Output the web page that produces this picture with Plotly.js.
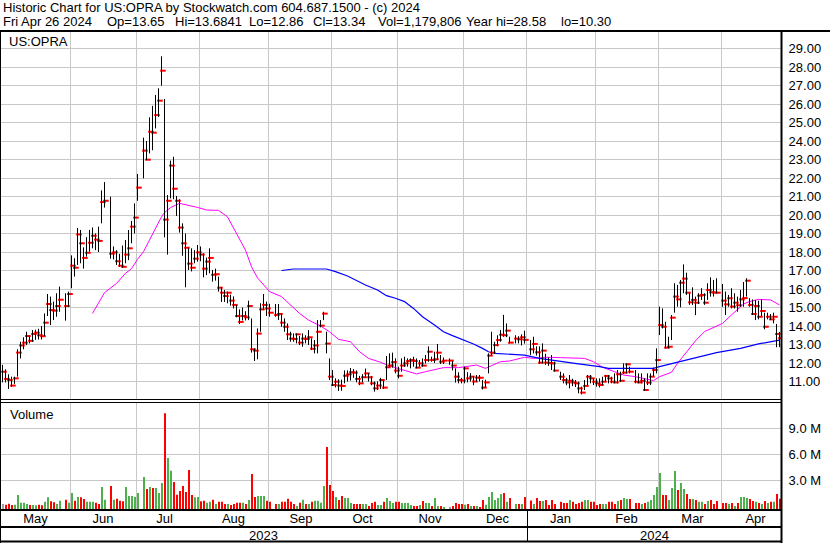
<!DOCTYPE html>
<html><head><meta charset="utf-8">
<script src="https://cdn.plot.ly/plotly-3.0.1.min.js"></script>
<style>html,body{margin:0;padding:0;background:#fff;}#chart{width:830px;height:543px;}</style>
</head><body><div id="chart"></div>
<script>
// ---------------- DATA ----------------
const symbol = 'US:OPRA';
const firstDay = '2023-05-01';
const lastDay = '2024-04-26';
const holidays = ['2023-05-29','2023-06-19','2023-07-04','2023-09-04','2023-11-23','2023-12-25',
                  '2024-01-01','2024-01-15','2024-02-19','2024-03-29'];

const highs = [
 11.90,11.66,11.39,11.26,11.26,12.74,13.15,13.39,13.69,13.42,13.78,13.80,13.85,14.00,14.68,15.73,15.59,15.32,15.77,16.13,15.77,15.86,
 17.82,17.66,19.30,19.19,18.25,18.80,19.19,19.33,19.00,19.37,21.33,21.78,20.99,18.30,18.10,17.90,18.35,18.65,19.19,19.68,20.63,
 22.22,24.18,24.00,25.28,25.90,26.49,26.85,28.58,26.27,21.08,22.94,23.15,21.03,20.85,19.55,19.00,18.20,18.20,18.10,18.38,
 18.30,17.93,17.70,18.20,17.03,17.10,16.67,16.10,15.95,15.86,15.70,15.60,15.14,14.90,15.00,14.80,15.37,14.41,12.79,13.87,15.23,15.73,15.32,
 15.20,15.19,15.19,14.68,14.41,14.14,13.69,13.60,13.60,13.46,13.60,13.50,13.78,13.33,13.24,14.32,14.32,14.77,13.69,12.25,
 11.62,11.17,11.12,11.10,11.60,11.60,11.73,11.67,11.60,11.30,11.40,11.70,11.45,11.30,11.00,11.00,11.20,11.05,12.38,12.52,12.56,12.25,
 11.80,12.25,12.34,12.25,12.25,12.34,12.25,12.16,12.25,12.43,12.90,12.34,12.61,13.03,12.43,12.30,12.25,12.10,11.71,11.50,11.20,
 11.80,11.50,11.45,11.30,11.35,11.35,11.08,11.10,12.52,13.69,13.15,13.50,13.78,14.60,14.14,13.42,13.50,13.45,13.55,13.75,
 13.24,13.42,12.90,12.90,13.06,12.50,12.30,12.43,12.07,11.53,11.44,11.20,11.35,11.15,11.08,10.99,10.72,11.08,11.35,11.35,11.17,
 11.17,11.17,11.26,11.35,11.35,11.26,11.44,11.62,11.53,11.98,11.98,11.80,11.62,11.44,11.44,11.17,11.44,11.44,11.75,12.79,
 15.05,14.95,14.23,13.42,14.59,16.31,16.22,16.49,17.33,16.88,15.77,16.09,15.59,15.77,16.04,15.77,16.31,16.63,16.49,16.58,
 16.27,15.86,15.68,16.04,15.77,15.59,15.95,16.38,16.58,15.50,15.44,15.41,15.37,15.44,14.72,14.72,14.65,14.72,14.11,13.6841
];
const lows = [
 10.95,10.95,10.60,10.72,10.87,11.26,12.25,12.74,12.97,13.06,13.15,13.25,13.27,13.27,13.46,14.54,14.05,14.32,14.50,14.77,14.29,15.04,
 16.04,16.67,17.30,17.39,17.10,17.75,18.02,18.20,18.10,18.00,19.55,20.40,17.64,17.60,17.30,17.20,17.15,17.39,17.56,18.47,19.00,
 20.77,21.98,22.97,23.33,23.50,24.68,25.30,26.99,18.79,17.86,20.90,20.85,19.95,19.05,17.80,16.09,17.03,16.95,17.39,17.48,
 17.50,16.63,16.75,16.85,16.40,16.45,15.86,15.30,15.30,15.23,15.10,14.95,14.47,14.11,14.30,14.30,14.32,12.56,12.11,12.20,13.69,14.86,14.54,
 14.50,14.50,14.32,13.96,13.69,13.24,13.15,13.15,13.06,12.97,12.88,13.06,12.97,12.70,12.52,12.52,13.93,14.32,12.52,11.08,
 10.76,10.68,10.49,10.50,10.90,11.00,11.05,11.20,10.95,10.80,10.95,11.20,11.00,10.80,10.45,10.55,10.60,10.60,11.08,11.80,11.75,11.44,
 11.17,11.53,11.80,11.80,11.71,11.80,11.71,11.80,11.80,11.98,12.07,12.07,12.00,12.16,11.95,11.95,11.90,11.60,10.94,10.90,10.90,
 10.90,10.95,11.00,10.80,11.00,11.00,10.57,10.70,11.44,12.43,12.50,12.90,13.15,13.42,13.40,13.06,13.06,13.06,12.95,13.05,
 12.43,12.52,12.40,11.95,11.98,11.90,11.85,11.62,11.53,11.08,10.90,10.80,10.63,10.75,10.70,10.36,10.30,10.54,10.81,10.90,10.81,
 10.72,10.68,10.81,11.00,10.90,10.90,10.90,10.90,10.98,11.40,11.44,11.44,10.90,10.90,10.90,10.50,10.81,10.81,11.26,11.44,
 13.51,13.87,12.79,12.79,13.24,14.72,15.04,15.01,15.77,15.68,15.14,15.14,14.59,15.19,15.41,15.14,15.41,15.59,15.59,15.77,
 15.04,14.59,15.04,14.95,14.95,14.77,15.04,15.04,15.59,15.04,14.59,14.32,14.36,14.54,13.82,14.36,14.32,14.14,12.85,12.86
];
const closes = [
 11.53,11.14,11.08,10.78,11.17,12.56,12.95,13.10,13.46,13.20,13.57,13.64,13.50,13.45,14.18,15.19,14.86,14.83,15.08,15.42,15.08,15.73,
 17.26,17.15,18.95,18.47,17.68,17.96,18.50,18.88,18.67,18.60,20.70,20.77,17.91,17.98,17.50,17.26,17.20,17.86,18.20,19.37,19.86,
 21.48,23.48,22.99,24.50,24.45,25.40,26.18,27.80,19.75,20.77,22.67,21.42,20.77,19.32,18.47,18.23,17.37,17.15,17.64,17.98,
 17.86,17.10,17.48,17.68,16.77,16.80,16.07,15.80,15.62,15.80,15.37,15.14,14.54,14.22,14.54,14.47,15.08,12.74,12.67,13.59,14.90,15.14,14.95,
 14.72,14.60,14.65,14.18,13.96,13.55,13.32,13.30,13.55,13.10,13.32,13.30,13.39,12.77,12.95,13.69,14.02,14.67,13.05,11.26,
 10.81,10.99,10.78,10.76,11.31,11.39,11.50,11.48,11.14,10.90,11.23,11.44,11.23,10.90,10.63,10.78,11.08,10.67,11.77,11.87,12.05,11.59,
 11.31,11.86,11.98,12.11,12.16,12.11,11.75,11.98,11.86,12.16,12.61,12.16,12.20,12.56,12.07,12.13,12.13,11.86,11.26,11.08,11.05,
 11.71,11.17,11.26,11.00,11.21,11.20,10.67,10.95,12.40,12.56,12.97,13.24,13.53,13.50,13.75,13.10,13.32,13.28,13.39,13.25,
 12.74,13.03,12.58,12.02,12.67,12.02,12.00,11.98,11.59,11.26,11.08,10.95,11.04,10.95,10.90,10.63,10.40,10.76,11.26,11.17,10.99,
 10.90,10.81,10.99,11.30,11.17,10.99,10.95,11.39,11.04,11.48,11.93,11.53,10.99,10.95,11.04,10.54,10.94,11.26,11.62,12.16,
 14.05,13.96,12.83,12.88,14.45,15.59,15.44,16.34,16.56,15.80,15.28,15.41,15.26,15.64,15.68,15.26,15.95,15.82,15.81,15.80,
 15.37,15.17,15.50,15.05,15.26,15.12,15.44,15.51,16.45,15.14,14.65,15.08,14.50,14.81,13.96,14.50,14.36,14.50,13.57,13.34
];
// daily volume, millions of shares
const volumesM = [
 0.58,0.50,0.62,0.47,0.50,1.63,0.74,0.74,0.58,0.47,0.47,0.43,0.50,0.43,0.85,1.36,0.89,0.78,0.58,0.97,1.09,0.74,
 1.86,0.97,1.40,1.36,1.16,0.85,0.85,0.85,0.74,0.58,2.56,1.09,2.67,1.09,1.20,0.97,0.89,2.56,1.51,1.51,1.40,
 1.86,3.72,2.33,2.56,2.44,2.44,1.86,3.02,11.16,5.93,4.46,3.14,1.67,2.09,2.67,1.98,4.53,1.63,1.36,1.40,
 0.89,0.97,0.74,0.85,1.09,0.58,0.85,0.85,0.58,0.58,0.47,0.58,0.74,0.74,0.74,0.58,1.05,4.07,1.40,1.51,1.51,1.51,0.97,
 0.85,0.58,0.58,0.85,0.85,1.20,0.85,0.58,0.35,0.74,1.09,0.58,0.58,0.85,0.97,0.97,0.74,2.67,7.21,2.79,
 2.09,1.40,1.05,1.51,1.28,1.28,0.70,0.58,0.58,0.58,0.58,0.58,0.35,0.70,0.85,0.47,0.47,0.85,1.28,0.93,0.70,0.85,
 0.85,0.70,0.70,0.70,0.47,0.35,0.35,0.47,0.93,0.70,0.70,0.35,1.28,0.35,0.35,0.23,0.23,0.35,0.70,0.58,0.58,
 0.50,0.58,0.35,0.35,0.35,0.23,1.05,0.50,1.40,1.98,1.05,1.28,1.74,1.86,0.85,1.28,0.58,0.58,0.58,1.40,
 1.00,0.58,1.28,0.93,0.93,1.05,0.47,1.05,0.58,0.85,0.70,0.70,1.05,0.85,0.58,0.70,0.85,1.05,1.05,0.85,0.85,
 0.47,0.58,0.58,0.58,0.85,0.85,0.58,0.93,1.05,1.28,1.16,1.16,0.70,0.70,0.58,0.70,0.85,1.05,1.63,2.56,
 4.19,1.63,1.63,1.05,2.44,4.42,2.21,3.02,2.33,1.74,1.16,1.16,1.05,0.85,0.85,0.58,0.93,1.05,0.58,0.93,
 0.70,0.70,0.58,0.70,0.35,0.70,1.40,1.40,1.28,1.16,0.93,0.85,0.70,0.58,0.93,0.70,0.85,0.85,1.74,1.179806
];
// moving averages as drawn (magenta short, blue long)
const shortAvgDates = ['2023-06-12','2023-06-14','2023-06-16','2023-06-22','2023-06-27','2023-06-29','2023-07-03','2023-07-05','2023-07-07','2023-07-11','2023-07-13','2023-07-14','2023-07-18','2023-07-21','2023-07-26','2023-07-31','2023-08-03','2023-08-09','2023-08-14','2023-08-17','2023-08-22','2023-08-24','2023-08-28','2023-08-31','2023-09-01','2023-09-07','2023-09-12','2023-09-15','2023-09-20','2023-09-26','2023-09-29','2023-10-04','2023-10-10','2023-10-13','2023-10-18','2023-10-24','2023-10-27','2023-11-01','2023-11-07','2023-11-09','2023-11-14','2023-11-20','2023-11-22','2023-11-29','2023-12-04','2023-12-07','2023-12-12','2023-12-14','2023-12-19','2023-12-22','2023-12-27','2023-12-29','2024-01-03','2024-01-09','2024-01-16','2024-01-19','2024-01-26','2024-01-31','2024-02-05','2024-02-09','2024-02-14','2024-02-20','2024-02-23','2024-02-28','2024-03-01','2024-03-07','2024-03-11','2024-03-14','2024-03-19','2024-03-22','2024-03-28','2024-04-01','2024-04-04','2024-04-10','2024-04-12','2024-04-17','2024-04-23','2024-04-26'];
const shortAvg = [14.68,15.23,15.8,16.3,16.85,17.1,17.6,18.02,18.65,19.28,19.9,20.13,20.4,20.63,20.54,20.41,20.27,20.25,19.9,19.0,18.1,17.2,16.6,16.05,15.86,15.59,15.14,14.68,14.32,14.0,13.69,13.28,13.15,12.61,12.25,12.04,11.84,11.71,11.5,11.41,11.53,11.68,11.75,11.75,11.8,11.89,11.71,11.86,12.07,12.11,12.22,12.31,12.25,12.31,12.29,12.29,12.25,12.07,11.77,11.53,11.35,11.26,11.14,11.05,11.26,11.5,11.98,12.61,13.2,13.7,14.02,14.14,14.6,15.19,15.32,15.44,15.41,15.14];
const longAvgDates = ['2023-09-07','2023-09-13','2023-09-28','2023-10-03','2023-10-09','2023-10-12','2023-10-17','2023-10-23','2023-10-26','2023-10-31','2023-11-03','2023-11-08','2023-11-13','2023-11-17','2023-11-22','2023-11-27','2023-12-01','2023-12-06','2023-12-11','2023-12-13','2023-12-15','2023-12-22','2023-12-29','2024-01-05','2024-01-16','2024-01-24','2024-02-02','2024-02-07','2024-02-16','2024-02-28','2024-03-01','2024-03-12','2024-03-20','2024-03-28','2024-04-09','2024-04-17','2024-04-26'];
const longAvg = [17.0,17.08,17.08,16.94,16.7,16.45,16.22,15.95,15.64,15.5,15.32,14.95,14.5,14.05,13.69,13.48,13.24,13.03,12.79,12.61,12.52,12.47,12.43,12.25,12.11,11.95,11.8,11.71,11.71,11.71,11.8,12.07,12.34,12.56,12.79,13.03,13.24];

const priceTicks = [11,12,13,14,15,16,17,18,19,20,21,22,23,24,25,26,27,28,29];
const volumeTicks = [3,6,9];
const volumeTickText = ['3.0 M','6.0 M','9.0 M'];
const headerLine1 = 'Historic Chart for US:OPRA by Stockwatch.com 604.687.1500 - (c) 2024';
const headerFields = ['Fri Apr 26 2024','Op=13.65','Hi=13.6841','Lo=12.86','Cl=13.34','Vol=1,179,806','Year hi=28.58','lo=10.30'];
const yearLabels = ['2023','2024'];

// ---------------- calendar of trading days ----------------
function tradingDays(start, end, skip){
  const out=[]; const d=new Date(start+'T00:00:00Z'); const e=new Date(end+'T00:00:00Z');
  while(d<=e){ const w=d.getUTCDay(); const s=d.toISOString().slice(0,10);
    if(w!==0 && w!==6 && skip.indexOf(s)<0) out.push(s); d.setUTCDate(d.getUTCDate()+1); }
  return out;
}
const dates = tradingDays(firstDay, lastDay, holidays);
if (dates.length!==closes.length) console.error('length mismatch', dates.length, closes.length);

// ---------------- drawing ----------------
const FONT = 'Liberation Sans, Arial, sans-serif';
const px = x => (x - 1) / 780;      // pixel -> paper (x)
const py = y => (509 - y) / 479;    // pixel -> paper (y)

const barX = dates.map(d => d + ' 12:00');
const tickX = dates.map(d => d + ' 23:30');
const volX = dates.map(d => d + ' 16:00');

const hlX = [], hlY = [];
dates.forEach((d,i)=>{ hlX.push(barX[i], barX[i], null); hlY.push(lows[i], highs[i], null); });

const volColors = closes.map((c,i)=> i===0 ? '#a0a0a0' : (c>closes[i-1] ? '#4cb04c' : (c<closes[i-1] ? '#ff0000' : '#a0a0a0')));

const traces = [
  {type:'scatter', mode:'lines', x:shortAvgDates.map(d=>d+' 12:00'), y:shortAvg, xaxis:'x', yaxis:'y',
   line:{color:'#ff00ff', width:1}, hoverinfo:'skip'},
  {type:'scatter', mode:'lines', x:longAvgDates.map(d=>d+' 12:00'), y:longAvg, xaxis:'x', yaxis:'y',
   line:{color:'#0000ff', width:1.2}, hoverinfo:'skip'},
  {type:'scatter', mode:'markers', x:tickX, y:closes, xaxis:'x', yaxis:'y',
   marker:{symbol:'line-ew', size:4, color:'#ff0000', line:{color:'#ff0000', width:2}}, hoverinfo:'skip'},
  {type:'scatter', mode:'lines', x:hlX, y:hlY, xaxis:'x', yaxis:'y', connectgaps:false,
   line:{color:'#000000', width:1}, hoverinfo:'skip'},
  {type:'bar', x:volX, y:volumesM, base:-0.35, width:16*3600*1000, xaxis:'x', yaxis:'y2',
   marker:{color:volColors, line:{width:0}}, hoverinfo:'skip'}
];

const blk = (x0,y0,x1,y1,w) => ({type:'line', xref:'paper', yref:'paper', x0:px(x0), y0:py(y0), x1:px(x1), y1:py(y1), line:{color:'#000', width:w}});
const shapes = [
  blk(-5,31,835,31,2),
  blk(0,399.5,781,399.5,1),
  blk(0,402.5,781,402.5,1),
  blk(0,510,782,510,2),
  blk(0,527,782,527,2),
  blk(0,541.5,782,541.5,2),
  blk(781.5,30,781.5,543,2),
  blk(0.5,30,0.5,543,1),
  {type:'line', xref:'x', yref:'paper', x0:'2024-01-01 12:00', x1:'2024-01-01 12:00', y0:py(510), y1:py(541), line:{color:'#000', width:1}}
];

const txt = (text, x, y, anchor) => ({text, xref:'paper', yref:'paper', x:px(x), y:py(y), xanchor:anchor||'left', yanchor:'middle',
   showarrow:false, borderpad:0, font:{family:FONT, size:13, color:'#000'}});
const headerX = [2,106,174,248,312,377,465,560];
const annotations = [
  txt(headerLine1, 2, 7.35),
  ...headerFields.map((f,i)=>txt(f, headerX[i], 21.9)),
  txt(symbol, 8, 41),
  txt('Volume', 9, 414),
  txt(yearLabels[0], 263, 535, 'center'),
  txt(yearLabels[1], 654, 535, 'center')
];

const layout = {
  width:830, height:543, margin:{l:1, r:49, t:30, b:34},
  paper_bgcolor:'#ffffff', plot_bgcolor:'#ffffff', showlegend:false, hovermode:false,
  font:{family:FONT, size:13, color:'#000'},
  xaxis:{type:'date', anchor:'y2', domain:[0,1], range:['2023-05-01 00:00','2024-04-26 23:59'],
    rangebreaks:[{bounds:['sat','mon']}], tick0:'2023-05-01', dtick:'M1', tickformat:'%b', ticklabelmode:'period',
    showgrid:true, gridcolor:'#c8c8c8', gridwidth:1, ticks:'', showline:false, zeroline:false,
    tickfont:{family:FONT, size:13, color:'#000'}},
  yaxis:{domain:[py(400),1], anchor:'x', side:'right', range:[10,30], tickvals:priceTicks,
    ticktext:priceTicks.map(v=>v.toFixed(2)), showgrid:true, gridcolor:'#c8c8c8', gridwidth:1,
    ticks:'outside', ticklen:4, tickcolor:'rgba(0,0,0,0)', showline:false, zeroline:false,
    tickfont:{family:FONT, size:13, color:'#000'}},
  yaxis2:{domain:[0,py(403)], anchor:'x', side:'right', range:[-0.35,12], tickvals:volumeTicks,
    ticktext:volumeTickText, showgrid:true, gridcolor:'#c8c8c8', gridwidth:1,
    ticks:'outside', ticklen:4, tickcolor:'rgba(0,0,0,0)', showline:false, zeroline:false,
    tickfont:{family:FONT, size:13, color:'#000'}},
  shapes, annotations
};

Plotly.newPlot('chart', traces, layout, {staticPlot:true, displayModeBar:false});
</script>
</body></html>
